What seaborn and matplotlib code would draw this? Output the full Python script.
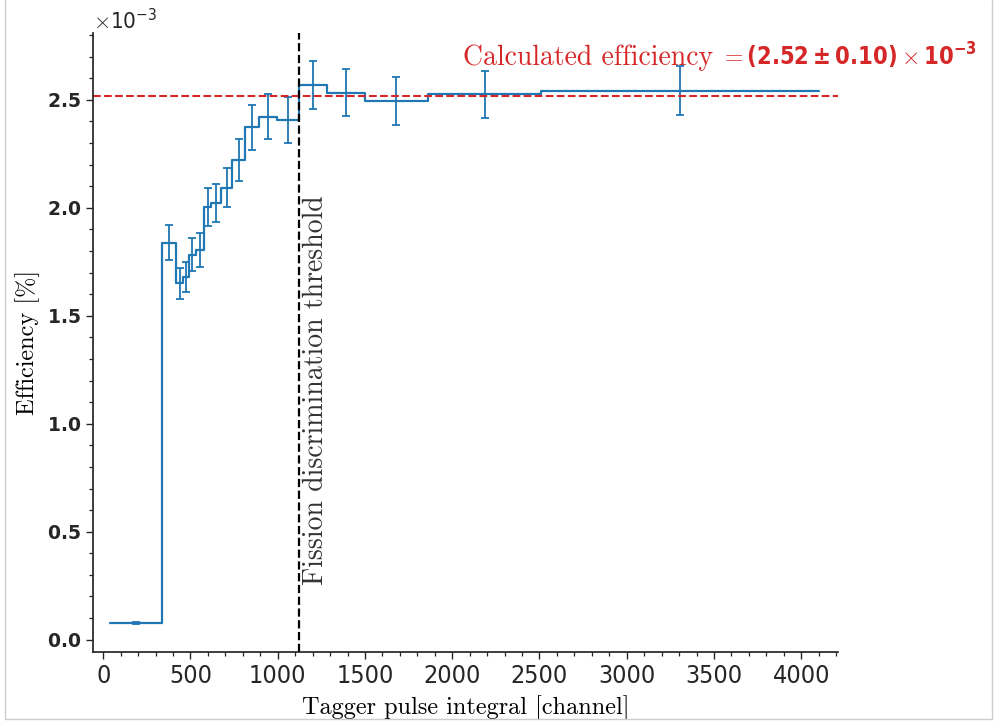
import numpy as np
import matplotlib
matplotlib.use("Agg")
import matplotlib.pyplot as plt
from matplotlib.ticker import MultipleLocator, ScalarFormatter
from matplotlib.lines import Line2D
import seaborn as sns

# Bin edges of the tagger pulse integral [channel]
bin_edges = [40, 335, 420, 455, 490, 530, 580, 620, 675, 740, 815, 895, 995,
             1120, 1280, 1500, 1860, 2510, 4100]
# Efficiency per bin (units of 1e-3) and its uncertainty
efficiency = [0.077, 1.839, 1.651, 1.681, 1.782, 1.805, 2.005, 2.022, 2.094,
              2.223, 2.373, 2.423, 2.407, 2.568, 2.534, 2.495, 2.525, 2.543]
efficiency_err = [0.004, 0.080, 0.071, 0.070, 0.076, 0.080, 0.088, 0.089, 0.090,
                  0.098, 0.104, 0.105, 0.106, 0.111, 0.110, 0.110, 0.111, 0.112]
fission_threshold = 1120
calc_efficiency = 2.52
calc_efficiency_err = 0.10
unit = 1e-3

BLUE = "#1f77b4"
RED = "#d62728"

sns.set_theme(style="ticks")
plt.rcParams.update({
    "mathtext.fontset": "custom",
    "mathtext.rm": "cmr10",
    "mathtext.it": "cmmi10",
    "mathtext.bf": "DejaVu Sans:weight=bold:stretch=condensed",
    "mathtext.sf": "DejaVu Sans:stretch=condensed",
    "mathtext.fallback": "cm",
    "axes.unicode_minus": True,
})

fig = plt.figure(figsize=(9.95, 7.23), dpi=100)
ax = fig.add_axes([0.0932, 0.0982, 0.7489, 0.8560])

edges = np.asarray(bin_edges, dtype=float)
eff = np.asarray(efficiency) * unit
err = np.asarray(efficiency_err) * unit
centers = 0.5 * (edges[:-1] + edges[1:])

step_x = edges
step_y = np.append(eff, eff[-1])
sns.lineplot(x=step_x, y=step_y, ax=ax, drawstyle="steps-post",
             estimator=None, color=BLUE, linewidth=1.6)
ax.errorbar(centers, eff, yerr=err, fmt="none", ecolor=BLUE,
            elinewidth=1.3, capsize=3, capthick=1.3)

ax.axhline(calc_efficiency * unit, color=RED, ls="--", lw=1.5)
ax.axvline(fission_threshold, color="black", ls="--", lw=1.6)

ax.set_xlim(-60, 4210)

ax.xaxis.set_major_locator(MultipleLocator(500))
ax.xaxis.set_minor_locator(MultipleLocator(100))
ax.yaxis.set_major_locator(MultipleLocator(0.5 * unit))
ax.yaxis.set_minor_locator(MultipleLocator(0.1 * unit))
fmt = ScalarFormatter(useMathText=True)
fmt.set_powerlimits((0, 0))
ax.yaxis.set_major_formatter(fmt)

ax.tick_params(axis="both", which="major", direction="out", length=5, width=1)
ax.tick_params(axis="both", which="minor", direction="out", length=3, width=0.9)
ax.tick_params(axis="y", labelsize=13.5)
ax.tick_params(axis="x", labelsize=18)
for lab in ax.get_yticklabels():
    lab.set_fontfamily("DejaVu Sans")
    lab.set_fontweight("bold")
for lab in ax.get_xticklabels():
    lab.set_fontfamily("DejaVu Sans")
    lab.set_fontstretch("condensed")

offset = ax.yaxis.get_offset_text()
offset.set_fontfamily("DejaVu Sans")
offset.set_fontstretch("condensed")
offset.set_fontsize(16)

sns.despine(ax=ax)

ax.set_xlabel("Tagger pulse integral [channel]", fontfamily="cmr10",
              fontsize=17.5, color="black", labelpad=5)
ax.set_ylabel("Efficiency [%]", fontfamily="cmr10", fontsize=17.5,
              color="black", labelpad=5)

ax.text(fission_threshold + 25, 1.157 * unit, "Fission discrimination threshold",
        rotation=90, ha="left", va="center", fontfamily="cmr10",
        fontsize=20, color="#333333")

# calculated efficiency: words in roman, the value in bold
ax.text(2060, 2.66 * unit, "Calculated efficiency", ha="left", va="baseline",
        fontfamily="cmr10", fontsize=20, color=RED)
value_label = (r"$= \mathbf{(%.2f \pm %.2f)} \times \mathbf{10^{-3}}$"
               % (calc_efficiency, calc_efficiency_err))
ax.text(3535, 2.66 * unit, value_label, ha="left", va="baseline",
        fontfamily="cmr10", fontsize=17, color=RED)

# thin frame around the figure
frame_kw = dict(color="#cccccc", lw=1.0, transform=fig.transFigure)
fig.add_artist(Line2D([5 / 995, 5 / 995], [4 / 723, 1.0], **frame_kw))
fig.add_artist(Line2D([992 / 995, 992 / 995], [4 / 723, 1.0], **frame_kw))
fig.add_artist(Line2D([5 / 995, 992 / 995], [4 / 723, 4 / 723], **frame_kw))

fig.savefig("out.png", dpi=100, facecolor="white")
